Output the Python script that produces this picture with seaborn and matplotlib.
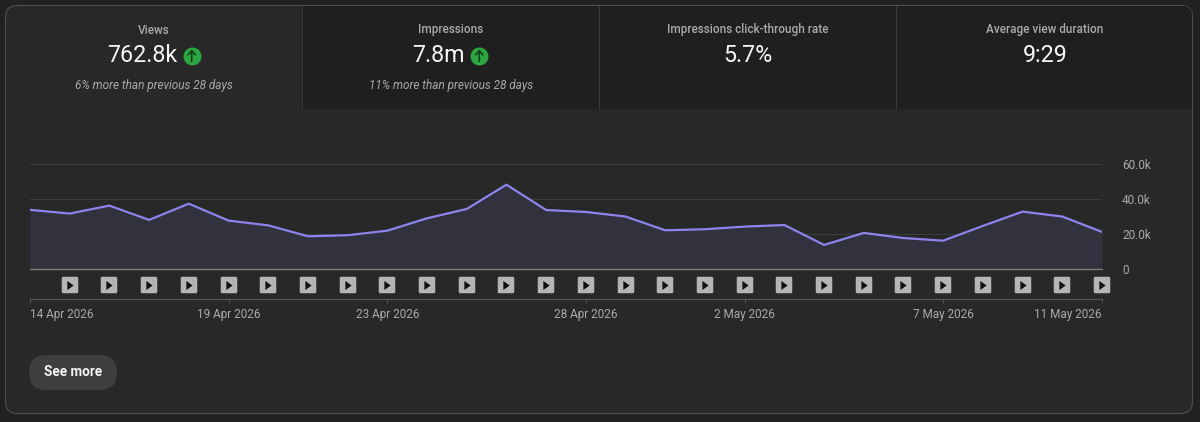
import pandas as pd
import matplotlib
matplotlib.use("Agg")
import matplotlib.pyplot as plt
from matplotlib.markers import MarkerStyle
from matplotlib.patches import FancyBboxPatch, Rectangle
import seaborn as sns

# Data
start_date = "2026-04-14"
views = [33.8, 31.7, 36.2, 28.1, 37.3, 27.7, 25.0, 18.8, 19.4, 22.0,
         29.0, 34.3, 48.1, 33.7, 32.6, 30.0, 22.2, 22.8, 24.3, 25.2,
         13.9, 20.7, 17.8, 16.3, 24.7, 32.8, 30.0, 21.3]
y_ticks = [0, 20, 40, 60]
y_labels = ["0", "20.0k", "40.0k", "60.0k"]
date_ticks = ["2026-04-14", "2026-04-19", "2026-04-23", "2026-04-28",
              "2026-05-02", "2026-05-07", "2026-05-11"]
date_labels = ["14 Apr 2026", "19 Apr 2026", "23 Apr 2026", "28 Apr 2026",
               "2 May 2026", "7 May 2026", "11 May 2026"]
card_titles = ["Views", "Impressions", "Impressions click-through rate", "Average view duration"]
card_values = ["762.8k", "7.8m", "5.7%", "9:29"]
card_notes = ["6% more than previous 28 days", "11% more than previous 28 days", "", ""]

W, H = 1200, 422
PAGE = "#212121"
CARD = "#282828"
TAB = "#1f1f1f"
EDGE = "#4d4d4d"
GREY = "#aaaaaa"

sns.set_theme(style="dark", rc={"figure.facecolor": PAGE, "axes.facecolor": "none"})
plt.rcParams["font.family"] = ["Roboto", "DejaVu Sans"]


def px(n):
    # font sizes and line widths are in points, the picture is measured in pixels
    return n * 0.72


fig = plt.figure(figsize=(W / 100, H / 100), dpi=100)

# ===== Page layer, in pixels =====
bg = fig.add_axes([0, 0, 1, 1], zorder=0)
bg.set_xlim(0, W)
bg.set_ylim(H, 0)
bg.axis("off")

card = FancyBboxPatch((5.5, 5.5), 1187, 408, boxstyle="round,pad=0,rounding_size=12",
                      facecolor=CARD, edgecolor=EDGE, linewidth=px(1.2))
bg.add_patch(card)
tabs = Rectangle((302, 6), 890, 103, facecolor=TAB, edgecolor="none")
tabs.set_clip_path(card)
bg.add_patch(tabs)
for x in [302, 599, 896]:
    bg.plot([x, x], [6, 109], color="#383838", lw=px(1))

centers = [154, 451, 748, 1045]
value_offsets = [-12.3, -13, 0, 0]
for i, cx in enumerate(centers):
    bg.text(cx, 30, card_titles[i], color=GREY, fontsize=px(11.8), fontweight="medium", ha="center", va="center")
    bg.text(cx + value_offsets[i], 56, card_values[i], color="#f6f6f6", fontsize=px(23.2),
            ha="center", va="center")
    if card_notes[i]:
        bg.text(cx, 85, card_notes[i], color=GREY, fontsize=px(11.8), style="italic", ha="center", va="center")

for x in [191.7, 479.3]:
    bg.scatter([x], [55.5], s=px(18) ** 2, color="#2ba640", linewidths=0, zorder=3)
    bg.annotate("", xy=(x, 49.5), xytext=(x, 61.5), zorder=4,
                arrowprops=dict(arrowstyle="->,head_width=0.22,head_length=0.25", color="#123d1b", lw=px(1.6),
                                shrinkA=0, shrinkB=0))

bg.add_patch(FancyBboxPatch((29, 355), 88, 35, boxstyle="round,pad=0,rounding_size=17.5",
                            facecolor="#3e3e3e", edgecolor="none"))
bg.text(73, 372, "See more", color="#f4f4f4", fontsize=px(13.5), fontweight="bold", ha="center", va="center")

# ===== Chart =====
df = pd.DataFrame({"date": pd.date_range(start_date, periods=len(views)), "views": views})

y_top, y_base = 163.7, 269.4
ax = fig.add_axes([30 / W, 1 - y_base / H, 1072 / W, (y_base - y_top) / H], zorder=1)
ax.fill_between(df["date"], df["views"], 0, color="#32313e", linewidth=0, zorder=1)
sns.lineplot(data=df, x="date", y="views", ax=ax, color="#8d85ee", linewidth=px(2.2), zorder=3)
ax.set_xlim(df["date"].iloc[0], df["date"].iloc[-1])
ax.set_ylim(0, 60)
ax.set_xlabel("")
ax.set_ylabel("")

for side in ["top", "left", "right"]:
    ax.spines[side].set_visible(False)
# moving a spine resets the ticks, so this goes before the tick setup
ax.spines["bottom"].set_position(("outward", px(29.5)))
ax.spines["bottom"].set_color("#555555")
ax.spines["bottom"].set_linewidth(px(1.2))

ax.yaxis.tick_right()
ax.set_yticks(y_ticks, y_labels)
ax.tick_params(axis="y", length=0, pad=px(20), labelsize=px(11.7), labelcolor=GREY)
ax.grid(axis="y", color="#3d3d3d", linewidth=px(1))
ax.set_axisbelow(True)

ax.set_xticks(pd.to_datetime(date_ticks), date_labels)
ax.tick_params(axis="x", bottom=True, direction="out", length=px(4), width=px(1), color="#555555",
               pad=px(5.5), labelsize=px(11.7), labelcolor=GREY)
labels = ax.get_xticklabels()
labels[0].set_ha("left")
labels[-1].set_ha("right")

ax.axhline(0, color="#7f7f7f", linewidth=px(1.4), zorder=4, clip_on=False)

# Video markers under every day but the first
icon_y = -(284.5 - y_base) / (y_base - y_top)
days = df["date"].iloc[1:]
trans = ax.get_xaxis_transform()
ax.plot(days, [icon_y] * len(days), linestyle="none", transform=trans, clip_on=False, zorder=5,
        marker=MarkerStyle("s", joinstyle="round"), markersize=px(13.5), markerfacecolor="#b5b5b5",
        markeredgecolor="#b5b5b5", markeredgewidth=px(2.5))
ax.plot(days, [icon_y] * len(days), linestyle="none", transform=trans, clip_on=False, zorder=6,
        marker=[(-0.7, -1), (-0.7, 1), (0.7, 0)], markersize=px(9), markerfacecolor="#111111",
        markeredgecolor="none")

fig.savefig("out.png", dpi=100, facecolor=PAGE)
